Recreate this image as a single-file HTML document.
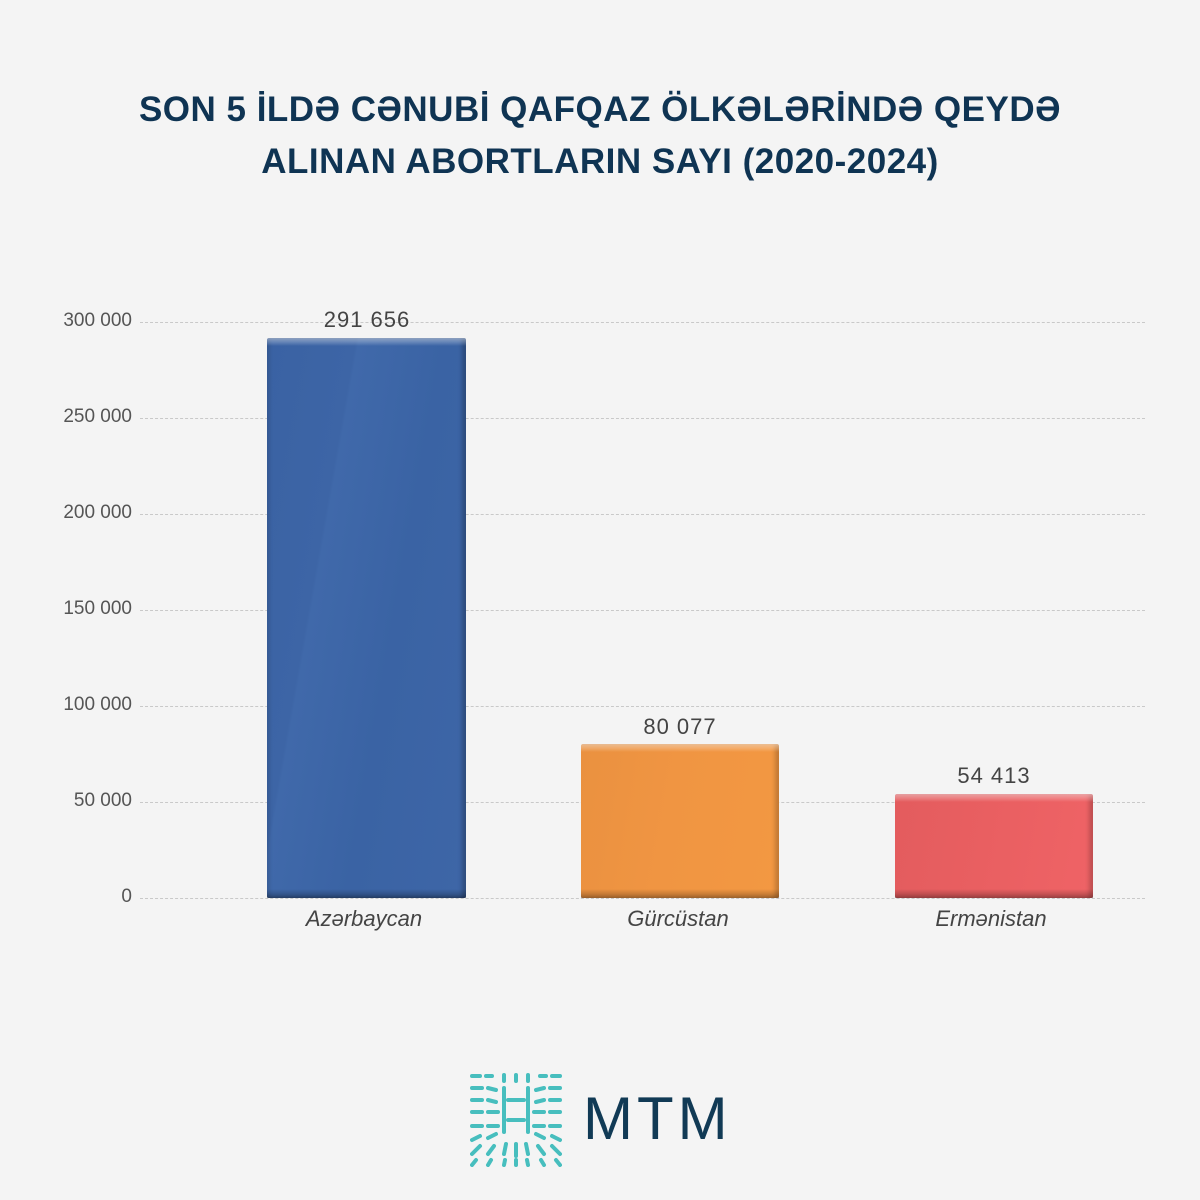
<!DOCTYPE html>
<html><head><meta charset="utf-8"><style>
*{margin:0;padding:0;box-sizing:border-box}
body{width:1200px;height:1200px;background:#f4f4f4;position:relative;overflow:hidden;font-family:"Liberation Sans","DejaVu Sans",sans-serif}
.t{position:absolute;left:0;width:1200px;text-align:center;color:#0f3453;font-weight:bold;font-size:35px;letter-spacing:0.5px}
.g{position:absolute;left:140px;width:1005px;border-top:1px dashed #c9c9c9}
.yl{position:absolute;left:20px;width:112px;text-align:right;color:#555;font-size:19px}
.bar{position:absolute;border-radius:2px}
.bar::after{content:"";position:absolute;left:0;right:0;top:0;height:8px;background:linear-gradient(rgba(255,255,255,.45),rgba(255,255,255,0))}
.bar::before{content:"";position:absolute;left:0;right:0;bottom:0;height:9px;background:linear-gradient(rgba(0,0,0,0),rgba(0,0,0,.3))}
.v{position:absolute;width:200px;text-align:center;color:#444;font-size:22px;letter-spacing:1px}
.c{position:absolute;width:200px;text-align:center;color:#444;font-size:22px;font-style:italic}
</style></head><body>
<div class="t" style="top:90px">SON 5 İLDƏ CƏNUBİ QAFQAZ ÖLKƏLƏRİNDƏ QEYDƏ</div>
<div class="t" style="top:142px">ALINAN ABORTLARIN SAYI (2020-2024)</div>

<div class="g" style="top:322px"></div><div class="g" style="top:418px"></div><div class="g" style="top:514px"></div><div class="g" style="top:610px"></div><div class="g" style="top:706px"></div><div class="g" style="top:802px"></div><div class="g" style="top:898px"></div>
<div class="yl" style="top:310px">300 000</div>
<div class="yl" style="top:406px">250 000</div>
<div class="yl" style="top:502px">200 000</div>
<div class="yl" style="top:598px">150 000</div>
<div class="yl" style="top:694px">100 000</div>
<div class="yl" style="top:790px">50 000</div>
<div class="yl" style="top:886px">0</div>

<div class="bar" style="left:267px;top:338px;width:199px;height:560px;background:linear-gradient(100deg,#3a62a3 0%,#3d65a6 30%,#4069aa 31%,#3a63a4 60%,#3e66a7 100%);box-shadow:inset -4px 0 4px rgba(0,0,0,.25),inset 3px 0 3px rgba(0,0,0,.1)"></div>
<div class="v" style="left:267px;top:307px">291 656</div>
<div class="c" style="left:264px;top:906px">Azərbaycan</div>

<div class="bar" style="left:581px;top:744px;width:198px;height:154px;background:linear-gradient(100deg,#ea9140 0%,#f09542 45%,#f39842 100%);box-shadow:inset -4px 0 4px rgba(0,0,0,.2)"></div>
<div class="v" style="left:580px;top:714px">80 077</div>
<div class="c" style="left:578px;top:906px">Gürcüstan</div>

<div class="bar" style="left:895px;top:794px;width:198px;height:104px;background:linear-gradient(100deg,#e35c5e 0%,#e95f61 45%,#ef6366 100%);box-shadow:inset -4px 0 4px rgba(0,0,0,.2)"></div>
<div class="v" style="left:894px;top:763px">54 413</div>
<div class="c" style="left:891px;top:906px">Ermənistan</div>

<svg style="position:absolute;left:468px;top:1072px" width="96" height="96" viewBox="0 0 96 96">
<g stroke="#2ab5b5" stroke-width="4" stroke-linecap="round" opacity=".85">
<line x1="4" y1="4" x2="12" y2="4"/><line x1="18" y1="4" x2="24" y2="4"/><line x1="36" y1="3" x2="36" y2="9"/><line x1="48" y1="3" x2="48" y2="9"/><line x1="60" y1="3" x2="60" y2="9"/><line x1="72" y1="4" x2="78" y2="4"/><line x1="84" y1="4" x2="92" y2="4"/>
<line x1="4" y1="16" x2="14" y2="16"/><line x1="20" y1="16" x2="28" y2="18"/><line x1="68" y1="18" x2="76" y2="16"/><line x1="82" y1="16" x2="92" y2="16"/>
<line x1="4" y1="28" x2="14" y2="28"/><line x1="20" y1="28" x2="28" y2="30"/><line x1="68" y1="30" x2="76" y2="28"/><line x1="82" y1="28" x2="92" y2="28"/>
<line x1="4" y1="40" x2="14" y2="40"/><line x1="20" y1="40" x2="30" y2="40"/><line x1="66" y1="40" x2="76" y2="40"/><line x1="82" y1="40" x2="92" y2="40"/>
<line x1="4" y1="54" x2="14" y2="54"/><line x1="20" y1="54" x2="30" y2="54"/><line x1="66" y1="54" x2="76" y2="54"/><line x1="82" y1="54" x2="92" y2="54"/>
<line x1="4" y1="68" x2="12" y2="64"/><line x1="20" y1="66" x2="28" y2="62"/><line x1="68" y1="62" x2="76" y2="66"/><line x1="84" y1="64" x2="92" y2="68"/>
<line x1="4" y1="82" x2="12" y2="74"/><line x1="20" y1="82" x2="26" y2="74"/><line x1="36" y1="82" x2="38" y2="72"/><line x1="48" y1="84" x2="48" y2="72"/><line x1="60" y1="82" x2="58" y2="72"/><line x1="76" y1="82" x2="70" y2="74"/><line x1="92" y1="82" x2="84" y2="74"/>
<line x1="4" y1="93" x2="8" y2="88"/><line x1="20" y1="93" x2="23" y2="88"/><line x1="36" y1="93" x2="37" y2="88"/><line x1="48" y1="93" x2="48" y2="88"/><line x1="60" y1="93" x2="59" y2="88"/><line x1="76" y1="93" x2="73" y2="88"/><line x1="92" y1="93" x2="88" y2="88"/>
<line x1="36" y1="16" x2="36" y2="60"/><line x1="60" y1="16" x2="60" y2="60"/><line x1="40" y1="28" x2="56" y2="28"/><line x1="40" y1="48" x2="56" y2="48"/>
</g></svg>
<div style="position:absolute;left:583px;top:1086px;font-size:60px;color:#113a55;letter-spacing:4px;line-height:66px">MTM</div>
</body></html>
